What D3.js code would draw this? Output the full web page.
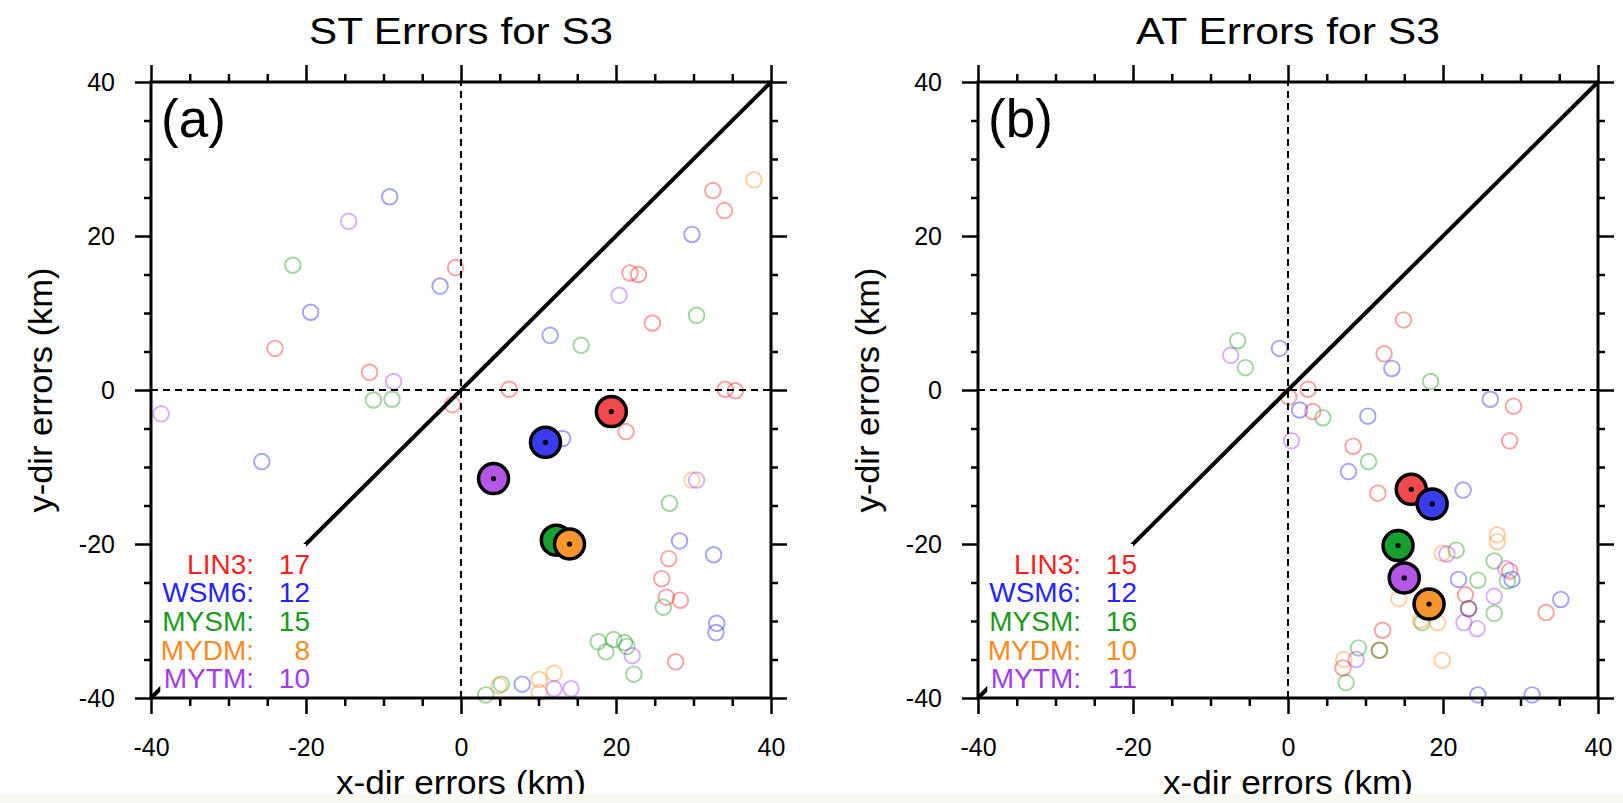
<!DOCTYPE html>
<html>
<head>
<meta charset="utf-8">
<script src="https://cdn.jsdelivr.net/npm/d3@7"></script>
<style>
  body { margin: 0; background: #ffffff; }
  svg { display: block; font-family: "Liberation Sans", Arial, Helvetica, sans-serif; }
</style>
</head>
<body>
<svg id="chart" width="1623" height="803"></svg>
<script>

var models = ["LIN3", "WSM6", "MYSM", "MYDM", "MYTM"];
var textColors = ["#ff1f1f", "#2424ff", "#1c9a1c", "#ff8a1e", "#a23cf0"];
var fillColors = ["#f24a4a", "#3c3cef", "#16a030", "#f5962e", "#b457e6"];

// ST errors, one array of [x, y] per model (km)
var stLin3 = [[-0.7,15.9],[-24.0,5.4],[-11.8,2.3],[32.5,25.9],[34.0,23.3],[21.8,15.2],[22.9,15.0],
  [24.7,8.7],[6.2,0.1],[34.1,0.1],[35.4,-0.1],[-1.1,-1.9],[21.3,-5.4],[26.8,-21.9],[25.9,-24.5],
  [26.5,-26.9],[28.3,-27.3],[27.7,-35.3]];
var stWsm6 = [[-9.2,25.1],[-2.7,13.5],[-19.4,10.1],[29.8,20.2],[11.5,7.1],[-25.7,-9.3],[13.1,-6.3],
  [28.2,-19.6],[32.6,-21.4],[33.0,-30.3],[32.9,-31.5],[7.9,-38.2]];
var stMysm = [[-21.7,16.2],[30.4,9.7],[15.5,5.8],[-11.3,-1.3],[-8.9,-1.2],[26.9,-14.7],[26.1,-28.2],
  [17.7,-32.7],[18.7,-34.0],[19.7,-32.4],[21.1,-32.8],[21.4,-33.3],[22.3,-36.9],[5.2,-38.2],[3.2,-39.6]];
var stMydm = [[37.8,27.3],[29.8,-11.7],[12.0,-36.8],[10.1,-37.6],[4.9,-38.4],[10.1,-39.3]];
var stMytm = [[-14.5,21.9],[-8.7,1.1],[20.4,12.3],[-38.7,-3.1],[30.4,-11.7],[22.1,-34.5],[12.0,-38.8],[14.2,-38.8]];
var stMeans = [[19.4,-2.8],[10.9,-6.8],[12.3,-19.5],[14.0,-20.0],[4.2,-11.5]];
var stCounts = [17, 12, 15, 8, 10];

// AT errors
var atLin3 = [[14.9,9.1],[12.4,4.7],[2.6,0.1],[0.1,-0.9],[3.2,-2.8],[8.4,-7.3],[11.6,-13.4],[29.1,-2.1],
  [28.6,-6.6],[12.2,-31.2],[11.8,-33.8],[7.1,-36.1],[28.6,-23.5],[22.9,-26.6],[23.3,-28.4],[33.3,-28.9]];
var atWsm6 = [[-1.1,5.4],[13.4,2.8],[1.5,-2.6],[10.3,-3.4],[7.8,-10.6],[26.1,-1.2],[22.6,-13.0],
  [22.0,-24.6],[28.9,-24.6],[35.2,-27.2],[24.5,-39.6],[31.5,-39.6]];
var atMysm = [[-6.5,6.4],[-5.5,2.9],[4.5,-3.6],[10.4,-9.3],[18.4,1.1],[11.8,-33.8],[9.1,-33.5],[7.5,-38.0],
  [21.7,-20.8],[26.6,-22.2],[28.3,-24.8],[24.5,-24.7],[23.3,-28.4],[26.6,-29.0],[17.3,-30.2]];
var atMydm = [[14.3,-27.1],[7.2,-35.0],[27.0,-18.8],[27.0,-19.7],[19.9,-21.2],[17.1,-29.9],[19.3,-30.2],[19.9,-35.1]];
var atMytm = [[-7.4,4.5],[0.45,-6.6],[8.8,-35.0],[20.5,-21.3],[28.1,-23.2],[26.6,-26.8],[23.3,-28.4],[22.7,-30.2],[24.4,-31.0]];
var atMeans = [[15.9,-12.9],[18.6,-14.8],[14.2,-20.2],[18.2,-27.8],[15.0,-24.4]];
var atCounts = [15, 12, 16, 10, 11];

var majorTicks = [-40, -20, 0, 20, 40];
var minorTicks = d3.range(-35, 40, 5).filter(function(d) { return d % 20 != 0; });
var diag = [[-40, -40], [40, 40]];

var W = 620, H = 616;
var svg = d3.select("#chart");

function drawPanel(left, title, tag, groups, means, counts) {
  var g = svg.append("g").attr("transform", "translate(" + left + ",82)");

  var x = d3.scaleLinear().domain([-40, 40]).range([0, W]);
  var y = d3.scaleLinear().domain([-40, 40]).range([H, 0]);

  // faint open circles for each case
  groups.forEach(function(pts, i) {
    g.append("g").selectAll("circle")
      .data(pts)
      .enter().append("circle")
      .attr("cx", function(d) { return x(d[0]); })
      .attr("cy", function(d) { return y(d[1]); })
      .attr("r", 7.8)
      .style("fill", "none")
      .style("stroke", textColors[i])
      .style("stroke-width", 1.9)
      .style("opacity", 0.42);
  });

  // zero lines
  g.append("line")
    .attr("x1", x(0)).attr("x2", x(0)).attr("y1", y(-40)).attr("y2", y(40))
    .style("stroke", "#000").style("stroke-width", 2).style("stroke-dasharray", "7,5");
  g.append("line")
    .attr("x1", x(-40)).attr("x2", x(40)).attr("y1", y(0)).attr("y2", y(0))
    .style("stroke", "#000").style("stroke-width", 2).style("stroke-dasharray", "7,5");

  var line = d3.line().x(function(d) { return x(d[0]); }).y(function(d) { return y(d[1]); });
  g.append("path")
    .attr("d", line(diag))
    .style("fill", "none").style("stroke", "#000").style("stroke-width", 4);

  // legend box hides the lower part of the diagonal
  g.append("rect")
    .attr("x", x(-38.8)).attr("y", y(-20))
    .attr("width", x(-20) - x(-38.8)).attr("height", y(-39.8) - y(-20))
    .style("fill", "#fff");

  models.forEach(function(m, i) {
    var by = H - 124.5 + i * 28.7;
    g.append("text")
      .attr("x", 103).attr("y", by)
      .attr("text-anchor", "end")
      .style("font-size", "28px").style("fill", textColors[i])
      .text(m + ":");
    g.append("text")
      .attr("x", 159).attr("y", by)
      .attr("text-anchor", "end")
      .style("font-size", "28px").style("fill", textColors[i])
      .text(counts[i]);
  });

  // mean positions
  means.forEach(function(d, i) {
    g.append("circle")
      .attr("cx", x(d[0])).attr("cy", y(d[1])).attr("r", 15)
      .style("fill", fillColors[i]).style("stroke", "#000").style("stroke-width", 3.5);
    g.append("circle")
      .attr("cx", x(d[0])).attr("cy", y(d[1])).attr("r", 2.6)
      .style("fill", "#000");
  });

  // axes with outward ticks on all sides
  function noDomain(a) { a.select(".domain").remove(); }
  var fmt = function(d) { return String(d); };

  g.append("g").attr("transform", "translate(0," + H + ")")
    .call(d3.axisBottom(x).tickValues(majorTicks).tickSize(16).tickPadding(24).tickFormat(fmt)).call(noDomain);
  g.append("g").attr("transform", "translate(0," + H + ")")
    .call(d3.axisBottom(x).tickValues(minorTicks).tickSize(8).tickFormat("")).call(noDomain);
  g.append("g")
    .call(d3.axisTop(x).tickValues(majorTicks).tickSize(17).tickFormat("")).call(noDomain);
  g.append("g")
    .call(d3.axisTop(x).tickValues(minorTicks).tickSize(8).tickFormat("")).call(noDomain);
  g.append("g")
    .call(d3.axisLeft(y).tickValues(majorTicks).tickSize(16).tickPadding(20).tickFormat(fmt)).call(noDomain);
  g.append("g")
    .call(d3.axisLeft(y).tickValues(minorTicks).tickSize(7).tickFormat("")).call(noDomain);
  g.append("g").attr("transform", "translate(" + W + ",0)")
    .call(d3.axisRight(y).tickValues(majorTicks).tickSize(16).tickFormat("")).call(noDomain);
  g.append("g").attr("transform", "translate(" + W + ",0)")
    .call(d3.axisRight(y).tickValues(minorTicks).tickSize(7).tickFormat("")).call(noDomain);

  g.selectAll(".tick line").style("stroke", "#000").style("stroke-width", 2.5);
  g.selectAll(".tick text")
    .style("font-family", "'Liberation Sans', Arial, sans-serif")
    .style("font-size", "25px").style("fill", "#000");

  g.append("rect")
    .attr("x", 0).attr("y", 0).attr("width", W).attr("height", H)
    .style("fill", "none").style("stroke", "#000").style("stroke-width", 3);

  g.append("text")
    .attr("x", W / 2).attr("y", -38)
    .attr("text-anchor", "middle")
    .attr("textLength", 304).attr("lengthAdjust", "spacingAndGlyphs")
    .style("font-size", "36px")
    .text(title);

  g.append("text")
    .attr("x", 10).attr("y", 55)
    .style("font-size", "53px")
    .text(tag);

  g.append("text")
    .attr("transform", "translate(-99," + (H / 2) + ") rotate(-90)")
    .attr("text-anchor", "middle")
    .attr("textLength", 245).attr("lengthAdjust", "spacingAndGlyphs")
    .style("font-size", "34px")
    .text("y-dir errors (km)");

  g.append("text")
    .attr("x", W / 2).attr("y", 712)
    .attr("text-anchor", "middle")
    .attr("textLength", 250).attr("lengthAdjust", "spacingAndGlyphs")
    .style("font-size", "34px")
    .text("x-dir errors (km)");
}

drawPanel(151, "ST Errors for S3", "(a)", [stLin3, stWsm6, stMysm, stMydm, stMytm], stMeans, stCounts);
drawPanel(978, "AT Errors for S3", "(b)", [atLin3, atWsm6, atMysm, atMydm, atMytm], atMeans, atCounts);

// light strip along the bottom edge of the picture
svg.append("rect")
  .attr("x", 0).attr("y", 794).attr("width", 1623).attr("height", 9)
  .style("fill", "#f7f9f2");

</script>
</body>
</html>
